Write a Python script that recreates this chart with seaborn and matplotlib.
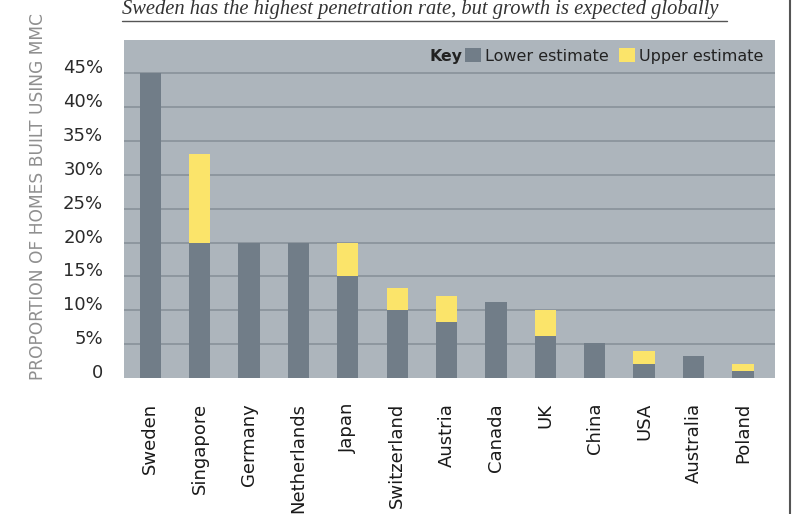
import matplotlib
matplotlib.use("Agg")
import matplotlib.pyplot as plt
import matplotlib.transforms as mtransforms
from matplotlib.patches import Patch
from matplotlib.lines import Line2D
import seaborn as sns
import pandas as pd

countries = ["Sweden", "Singapore", "Germany", "Netherlands", "Japan", "Switzerland",
             "Austria", "Canada", "UK", "China", "USA", "Australia", "Poland"]
lower_estimate = [45, 20, 20, 20, 15, 10, 8.3, 11.2, 6.2, 5.2, 2, 3.2, 1]
upper_estimate = [45, 33, 20, 20, 20, 13.3, 12.1, 11.2, 10.1, 5.2, 4, 3.2, 2]
yticks = [0, 5, 10, 15, 20, 25, 30, 35, 40, 45]
ytick_labels = ["0", "5%", "10%", "15%", "20%", "25%", "30%", "35%", "40%", "45%"]

title = "Sweden has the highest penetration rate, but growth is expected globally"
ylabel = "PROPORTION OF HOMES BUILT USING MMC"

df = pd.DataFrame({"country": countries, "lower": lower_estimate, "upper": upper_estimate})

sns.set_theme(style="white")
plt.rcParams["font.family"] = ["DejaVu Sans"]

DARK = "#717d88"
YELLOW = "#fbe46a"
PANEL = "#adb5bc"
GRID = "#8b949c"

fig = plt.figure(figsize=(8.02, 5.14), dpi=100)
ax = fig.add_axes([124/802, (514-378)/514, (775-124)/802, (378-40)/514])
ax.set_facecolor(PANEL)

sns.barplot(data=df, x="country", y="upper", color=YELLOW, saturation=1,
            width=0.43, ax=ax, zorder=3, edgecolor="none")
sns.barplot(data=df, x="country", y="lower", color=DARK, saturation=1,
            width=0.43, ax=ax, zorder=4, edgecolor="none")

ax.set_ylim(0, 49.9)
ax.set_xlim(-0.53, 12.65)
ax.set_yticks(yticks)
ax.set_yticklabels(ytick_labels)
for y in yticks[1:]:
    ax.axhline(y, color=GRID, lw=1.3, zorder=1)

for s in ax.spines.values():
    s.set_visible(False)
ax.tick_params(axis="y", length=0, pad=15, labelsize=13, labelcolor="#2a2a2a")
ax.tick_params(axis="x", length=0, pad=18, labelsize=13, labelcolor="#1a1a1a")
offset = mtransforms.ScaledTranslation(0, 5/72, fig.dpi_scale_trans)
for lab in ax.get_yticklabels():
    lab.set_transform(lab.get_transform() + offset)
for lab in ax.get_xticklabels():
    lab.set_rotation(90)
    lab.set_va("top")
    lab.set_ha("center")
ax.set_xlabel("")
ax.set_ylabel("")

fig.text(38/802, (514-197)/514, ylabel, rotation=90, ha="center", va="center",
         fontsize=12.3, color="#8f8f8f", family=["DejaVu Sans"])

fig.text(122/802, (514-14)/514, title, ha="left", va="baseline",
         fontsize=14.8, style="italic", family=["Liberation Serif", "DejaVu Serif"],
         color="#333333")
fig.add_artist(Line2D([122/802, 727/802], [(514-21)/514]*2, color="#555555", lw=1,
                      transform=fig.transFigure))
fig.add_artist(Line2D([790/802]*2, [0, 1], color="#555555", lw=1.5,
                      transform=fig.transFigure))

fig.text(462/802, (514-56)/514, "Key", ha="right", va="center", fontsize=11.3,
         fontweight="bold", color="#222222")
handles = [Patch(facecolor=DARK, edgecolor="none", label="Lower estimate"),
           Patch(facecolor=YELLOW, edgecolor="none", label="Upper estimate")]
ax.legend(handles=handles, ncol=2, loc="center right",
          bbox_to_anchor=(1.0, (378-56)/338), frameon=False, fontsize=11.5,
          handlelength=1.0, handleheight=1.0, handletextpad=0.3, columnspacing=0.6,
          borderaxespad=0.3, labelcolor="#222222")

fig.savefig("out.png", dpi=100, facecolor="white")
